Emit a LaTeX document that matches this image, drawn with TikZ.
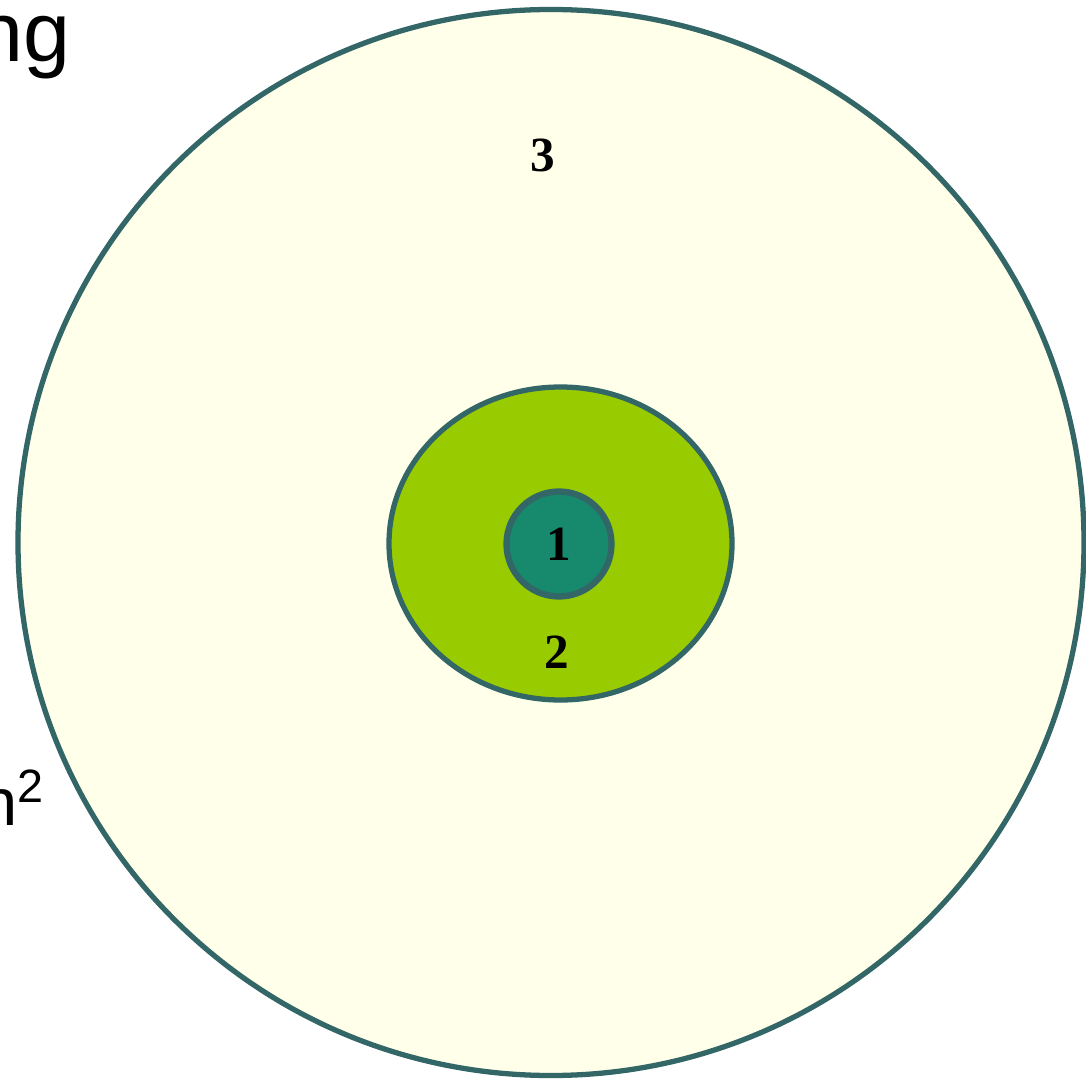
\documentclass[tikz,border=0pt]{standalone}
\usepackage{fontspec}
\setmainfont{Liberation Serif}
\newfontfamily\arialfont{Liberation Sans}
\usepackage{tikz}
\usetikzlibrary{shapes,positioning}
\usepackage{xcolor}
\definecolor{ringline}{HTML}{336666}
\definecolor{outerfill}{HTML}{FFFFEA}
\definecolor{midfill}{HTML}{99CC00}
\definecolor{corefill}{HTML}{178A6E}

\begin{document}
\begin{tikzpicture}[ring/.style={draw=ringline, line width=1.5pt, inner sep=0pt},
    num/.style={font=\bfseries\fontsize{14}{14}\selectfont}]
            \useasboundingbox (0,0) rectangle (10.86,10.82);
            \clip (0,0) rectangle (10.86,10.82);
            % Outer ring
            \node[ring, circle, fill=outerfill, minimum size=10.66cm] (outer) at (5.51,5.395) {};
            % Middle ring
            \node[ring, ellipse, fill=midfill, minimum width=3.43cm, minimum height=3.13cm] (middle) at (5.605,5.385) {};
            % Core
            \node[ring, circle, fill=corefill, line width=1.8pt, minimum size=1.05cm] (core) at (5.59,5.38) {};
            
            % Numbers
            \node[num] (n3) at (5.43,9.27) {3};
            \node[num] (n1) at (core) {1};
            \node[num] (n2) at (5.57,4.30) {2};
            
            % Cut-off text on the left
            \node[anchor=base east, inner sep=0pt, font=\arialfont\fontsize{24}{24}\selectfont] (title) at (0.71,10.20) {ng};
            \node[anchor=base east, inner sep=0pt, font=\arialfont\fontsize{19}{19}\selectfont] (area) at (0.46,2.57) {n\textsuperscript{2}};
        \end{tikzpicture}
\end{document}
